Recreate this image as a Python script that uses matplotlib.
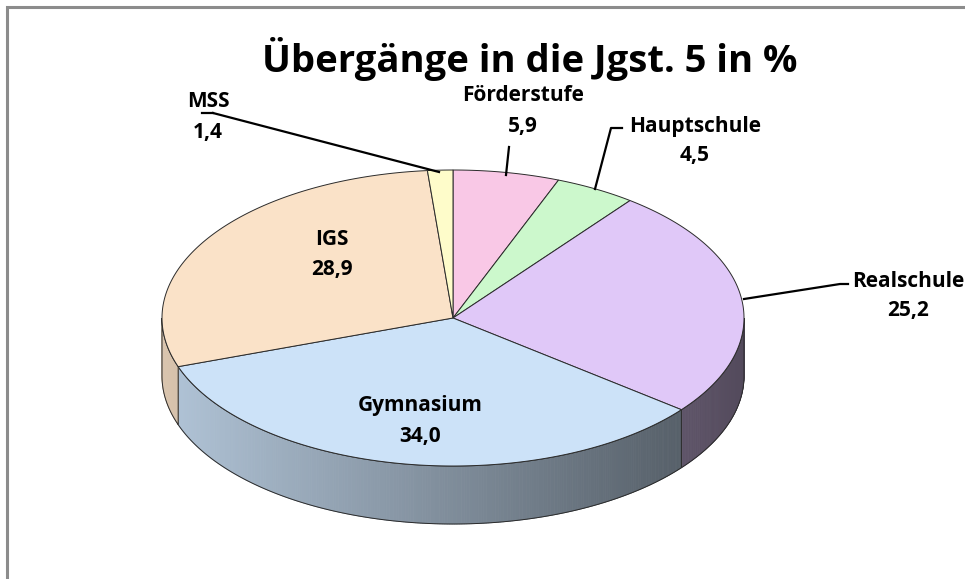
import numpy as np
import matplotlib.pyplot as plt
from matplotlib.patches import Polygon
from matplotlib.colors import to_rgb

labels = ['Förderstufe', 'Hauptschule', 'Realschule', 'Gymnasium', 'IGS', 'MSS']
values = [5.9, 4.5, 25.2, 34.0, 28.9, 1.4]
value_text = ['5,9', '4,5', '25,2', '34,0', '28,9', '1,4']
colors = ['#F9C8E6', '#CCF8CC', '#E0C8F8', '#CCE2F8', '#FAE2C8', '#FEFCCA']

plt.rcParams['font.family'] = ['Open Sans', 'DejaVu Sans']

fig = plt.figure(figsize=(9.65, 5.79), dpi=100)
ax = fig.add_axes([0, 0, 1, 1])
ax.set_xlim(0, 965)
ax.set_ylim(579, 0)
ax.axis('off')

# chart frame (only top and left visible)
ax.plot([7, 7, 965], [579, 7, 7], color='#8c8c8c', lw=2.2, solid_joinstyle='miter')

cx, cy, rx, ry, depth = 453, 318, 291, 148, 58


def pt(t, dy=0.0):
    return cx + rx * np.sin(t), cy - ry * np.cos(t) + dy


bounds = np.concatenate([[0], np.cumsum(values)]) / sum(values) * 2 * np.pi

# side of the pie (front half only)
for i, col in enumerate(colors):
    a0 = max(bounds[i], np.pi / 2)
    a1 = min(bounds[i + 1], 3 * np.pi / 2)
    if a0 >= a1:
        continue
    base = np.array(to_rgb(col))
    ts = np.linspace(a0, a1, max(int((a1 - a0) * 120), 4))
    for t0, t1 in zip(ts[:-1], ts[1:]):
        xm = pt((t0 + t1) / 2)[0]
        f = 0.62 - 0.25 * (xm - cx) / rx
        c = np.clip(base * f, 0, 1)
        x0, y0 = pt(t0)
        x1, y1 = pt(t1)
        ax.add_patch(Polygon([(x0, y0), (x1, y1), (x1, y1 + depth), (x0, y0 + depth)],
                             closed=True, fc=c, ec=c, lw=0.6))
    top = [pt(t) for t in ts]
    bot = [pt(t, depth) for t in ts[::-1]]
    ax.add_patch(Polygon(top + bot, closed=True, fill=False, ec='#2b2b2b', lw=0.7))

# top face
for i, col in enumerate(colors):
    ts = np.linspace(bounds[i], bounds[i + 1], max(int((bounds[i + 1] - bounds[i]) * 120), 4))
    verts = [(cx, cy)] + [pt(t) for t in ts]
    ax.add_patch(Polygon(verts, closed=True, fc=col, ec='#2b2b2b', lw=0.7))

ax.text(530, 72, 'Übergänge in die Jgst. 5 in %', ha='center', va='baseline',
        fontsize=27.5, fontweight='bold')

# label name baseline, value baseline
label_pos = [(523, 101, 132), (695, 132, 161), (908, 287, 316),
             (420, 411, 442), (332, 245, 275), (208, 107, 138)]
for (x, yn, yv), name, v in zip(label_pos, labels, value_text):
    ax.text(x, yn, name, ha='center', va='baseline', fontsize=15, fontweight='bold')
    ax.text(x, yv, v, ha='center', va='baseline', fontsize=15, fontweight='bold')

# leader lines
ax.plot([213, 202], [113, 113], color='black', lw=1.6)
ax.plot([213, 439], [113, 172], color='black', lw=1.6)
ax.plot([509, 506], [147, 175], color='black', lw=1.6)
ax.plot([622, 611, 595], [128, 128, 189], color='black', lw=1.6)
ax.plot([848, 840, 744], [284, 284, 299], color='black', lw=1.6)

fig.savefig('out.png', dpi=100)
